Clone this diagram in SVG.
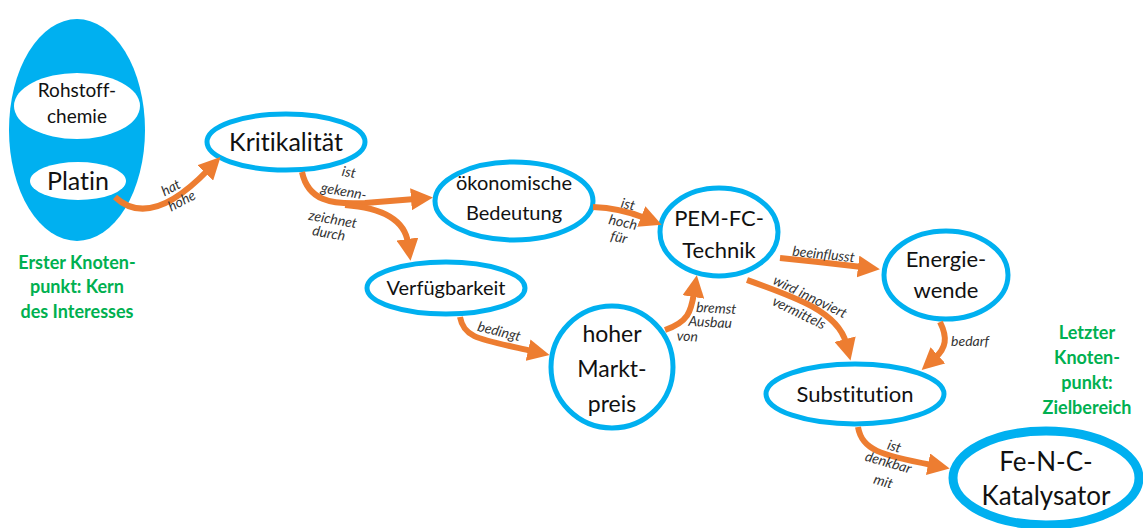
<svg xmlns="http://www.w3.org/2000/svg" width="1143" height="528" viewBox="0 0 1143 528">
<defs>
<style>
text{font-variant-ligatures:none;font-feature-settings:"liga" 0,"clig" 0}
.node{fill:#fff;stroke:#00b0f0;stroke-width:5}
.t{font-family:Lato,"Open Sans","Liberation Sans",sans-serif;fill:#111;text-anchor:middle}
.lbl{font-family:Lato,"Open Sans","Liberation Sans",sans-serif;font-style:italic;font-size:14px;fill:#333;text-anchor:middle}
.green{font-family:Lato,"Open Sans","Liberation Sans",sans-serif;font-weight:bold;font-size:18px;fill:#00b050;text-anchor:middle}
.c{fill:none;stroke:#ed7d31;stroke-width:6;marker-end:url(#ah)}
</style>
<marker id="ah" markerUnits="userSpaceOnUse" markerWidth="24" markerHeight="22" refX="4" refY="11" orient="auto" viewBox="0 0 24 22">
<path d="M0,0 L22,11 L0,22 z" fill="#ed7d31"/>
</marker>
</defs>
<rect width="1143" height="528" fill="#fff"/>

<g id="n-rohstoffchemie">
<ellipse cx="77" cy="130" rx="68" ry="111" fill="#00b0f0"/>
<ellipse cx="77" cy="106" rx="63" ry="33" fill="#fff"/>
<text class="t" x="77" y="97" font-size="19">Rohstoff-</text>
<text class="t" x="77" y="123" font-size="19">chemie</text>
</g>
<g id="n-platin">
<ellipse cx="78" cy="181" rx="48" ry="19" fill="#fff"/>
<text class="t" x="78" y="190" font-size="25">Platin</text>
</g>
<g id="note-erster">
<text class="green" x="77" y="269">Erster Knoten-</text>
<text class="green" x="77" y="293">punkt: Kern</text>
<text class="green" x="77" y="318">des Interesses</text>
</g>
<g id="n-kritikalitaet">
<ellipse class="node" cx="286" cy="142" rx="79" ry="28"/>
<text class="t" x="286" y="151" font-size="25">Kritikalität</text>
</g>
<g id="n-oekonomisch">
<ellipse class="node" cx="514" cy="201" rx="79" ry="39"/>
<text class="t" x="514" y="190" font-size="20">ökonomische</text>
<text class="t" x="514" y="220" font-size="20">Bedeutung</text>
</g>
<g id="n-verfuegbarkeit">
<ellipse class="node" cx="446" cy="288" rx="79" ry="26"/>
<text class="t" x="446" y="295" font-size="20">Verfügbarkeit</text>
</g>
<g id="n-marktpreis">
<ellipse class="node" cx="612" cy="367" rx="61" ry="61"/>
<text class="t" x="612" y="342" font-size="23">hoher</text>
<text class="t" x="612" y="377" font-size="23">Markt-</text>
<text class="t" x="612" y="412" font-size="23">preis</text>
</g>
<g id="n-pemfc">
<ellipse class="node" cx="719" cy="232" rx="59" ry="44"/>
<text class="t" x="719" y="226" font-size="22">PEM-FC-</text>
<text class="t" x="719" y="258" font-size="22">Technik</text>
</g>
<g id="n-energiewende">
<ellipse class="node" cx="946" cy="275" rx="62" ry="44"/>
<text class="t" x="946" y="267" font-size="22">Energie-</text>
<text class="t" x="946" y="298" font-size="22">wende</text>
</g>
<g id="n-substitution">
<ellipse class="node" cx="855" cy="394" rx="89" ry="30"/>
<text class="t" x="855" y="402" font-size="22">Substitution</text>
</g>
<g id="note-letzter">
<text class="green" x="1087" y="339">Letzter</text>
<text class="green" x="1087" y="364">Knoten-</text>
<text class="green" x="1087" y="389">punkt:</text>
<text class="green" x="1087" y="414">Zielbereich</text>
</g>
<g id="n-fenc">
<ellipse cx="1046" cy="478" rx="93" ry="47" fill="#fff" stroke="#00b0f0" stroke-width="9"/>
<text class="t" x="1046" y="471" font-size="26">Fe-N-C-</text>
<text class="t" x="1046" y="505" font-size="26">Katalysator</text>
</g>

<g id="connectors">
<path class="c" d="M115,197 Q150,230 208,170"/>
<path class="c" d="M302,172 C308,200 330,205 365,203 L415,199"/>
<path class="c" d="M345,205 C385,208 405,222 408,243"/>
<path class="c" d="M593,207 Q620,208 645,218"/>
<path class="c" d="M460,317 C464,338 478,339 532,351"/>
<path class="c" d="M665,330 C688,322 691,312 694,293"/>
<path class="c" d="M780,258 Q820,262 862,267"/>
<path class="c" d="M747,280 C795,297 838,312 846,343"/>
<path class="c" d="M940,322 C948,338 946,348 935,358"/>
<path class="c" d="M858,427 C862,450 880,455 932,465"/>
<text class="lbl" transform="translate(173,192) rotate(-28)">hat</text>
<text class="lbl" transform="translate(184,205) rotate(-28)">hohe</text>
<text class="lbl" transform="translate(348,177) rotate(10)">ist</text>
<text class="lbl" transform="translate(343,196) rotate(10)">gekenn-</text>
<text class="lbl" transform="translate(332,224) rotate(10)">zeichnet</text>
<text class="lbl" transform="translate(328,238) rotate(10)">durch</text>
<text class="lbl" transform="translate(627,209) rotate(12)">ist</text>
<text class="lbl" transform="translate(622,227) rotate(12)">hoch</text>
<text class="lbl" transform="translate(618,242) rotate(12)">für</text>
<text class="lbl" transform="translate(498,336) rotate(14)">bedingt</text>
<text class="lbl" transform="translate(716,313) rotate(3)">bremst</text>
<text class="lbl" transform="translate(710,327) rotate(3)">Ausbau</text>
<text class="lbl" transform="translate(687,341) rotate(3)">von</text>
<text class="lbl" transform="translate(823,259) rotate(6)">beeinflusst</text>
<text class="lbl" transform="translate(808,301) rotate(26)">wird innoviert</text>
<text class="lbl" transform="translate(797,317) rotate(26)">vermittels</text>
<text class="lbl" transform="translate(970,346)">bedarf</text>
<text class="lbl" transform="translate(893,451) rotate(16)">ist</text>
<text class="lbl" transform="translate(887,467) rotate(16)">denkbar</text>
<text class="lbl" transform="translate(882,486) rotate(16)">mit</text>
</g>
</svg>
